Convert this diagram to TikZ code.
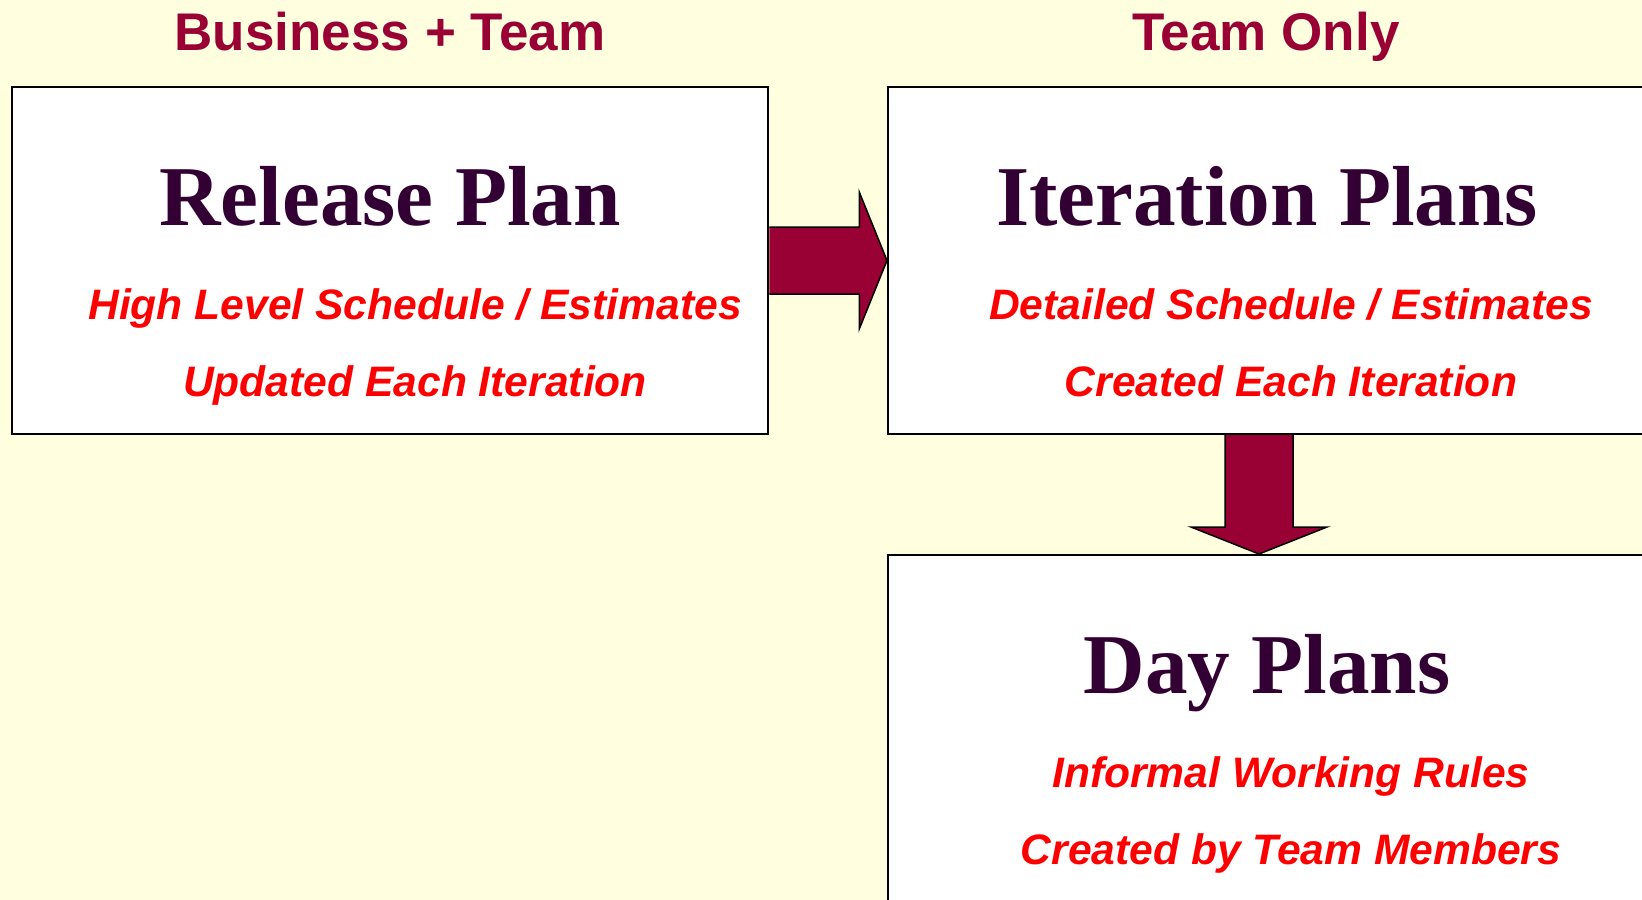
\documentclass[tikz,border=0pt]{standalone}
\usepackage{fontspec}
\setmainfont{Liberation Serif}
\newfontfamily\headfont{Liberation Sans}
\usetikzlibrary{calc}
\definecolor{bgyellow}{HTML}{FFFFE0}
\definecolor{headred}{HTML}{990033}
\definecolor{titlepurple}{HTML}{330033}
\definecolor{subred}{HTML}{FF0000}
\tikzset{
  planbox/.style={draw=black, line width=2pt, fill=white, inner sep=0pt},
  heading/.style={anchor=base, text=headred, font=\headfont\bfseries\fontsize{53}{60}\selectfont},
  title/.style={anchor=base, text=titlepurple, font=\bfseries\fontsize{85.2}{96}\selectfont},
  sub/.style={anchor=base, text=subred, font=\headfont\bfseries\itshape\fontsize{42.6}{50}\selectfont},
  blockarrow/.style={draw=black, line width=1.5pt, fill=headred, line join=miter}
}
\begin{document}
\begin{tikzpicture}[x=1pt,y=-1pt]
\useasboundingbox[fill=bgyellow] (0,0) rectangle (1642,900);
\begin{scope}
\clip (0,0) rectangle (1642,900);
\node[planbox, minimum width=756.5pt, minimum height=347pt] (rel) at (390,260.5) {};
\node[planbox, minimum width=772pt, minimum height=347pt] (iter) at (1274,260.5) {};
\node[planbox, minimum width=772pt, minimum height=365pt] (day) at (1274,737.5) {};

\node[heading] (h1) at (390,50) {Business + Team};
\node[heading] (h2) at (1266,50) {Team Only};

\node[title] (t1) at (390,225) {Release Plan};
\node[sub] (s1) at (415,319) {High Level Schedule / Estimates};
\node[sub] (s2) at (415,396) {Updated Each Iteration};

\node[title] (t2) at (1267,225) {Iteration Plans};
\node[sub] (s3) at (1291,319) {Detailed Schedule / Estimates};
\node[sub] (s4) at (1291,396) {Created Each Iteration};

\node[title] (t3) at (1267,693) {Day Plans};
\node[sub] (s5) at (1291,787) {Informal Working Rules};
\node[sub] (s6) at (1291,864) {Created by Team Members};

% right arrow from Release Plan to Iteration Plans
\draw[blockarrow] ($(rel.east)+(0,-33.5)$) -- ($(rel.east)+(90,-33.5)$) -- ($(rel.east)+(90,-68.5)$)
  -- (iter.west) -- ($(rel.east)+(90,68.5)$) -- ($(rel.east)+(90,33.5)$) -- ($(rel.east)+(0,33.5)$);
% down arrow from Iteration Plans to Day Plans
\coordinate (dtop) at (1259,0 |- iter.south);
\coordinate (dtip) at (1259,0 |- day.north);
\draw[blockarrow] ($(dtop)+(-34,0)$) -- ($(dtop)+(-34,92)$) -- ($(dtop)+(-68,92)$)
  -- (dtip) -- ($(dtop)+(68,92)$) -- ($(dtop)+(34,92)$) -- ($(dtop)+(34,0)$);
\end{scope}
\end{tikzpicture}
\end{document}
